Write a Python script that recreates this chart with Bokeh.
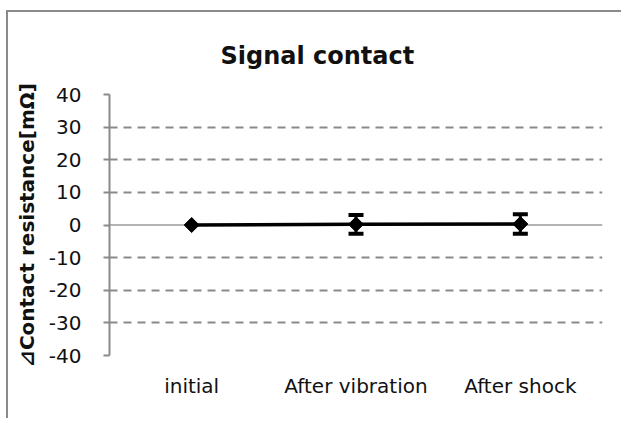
import numpy as np
from bokeh.plotting import figure
from bokeh.models import (ColumnDataSource, FactorRange, Range1d, FixedTicker, Span,
                          Whisker, TeeHead)
from bokeh.embed import file_html
from bokeh.resources import INLINE

# ---- data ----
categories = ["initial", "After vibration", "After shock"]
mean_delta = [0.0, 0.2, 0.3]          # mΩ
err_delta = [0.0, 2.9, 3.0]           # ± mΩ
y_ticks = [-40, -30, -20, -10, 0, 10, 20, 30, 40]
title_text = "Signal contact"
y_label = "⊿Contact resistance[mΩ]"

FONT = "DejaVu Sans"
GRAY = "#8a8a8a"

p = figure(width=615, height=408,
           x_range=FactorRange(factors=categories),
           y_range=Range1d(y_ticks[0], y_ticks[-1]),
           output_backend="svg", toolbar_location=None, tools="",
           min_border_left=101, min_border_right=21,
           min_border_top=82, min_border_bottom=65)
p.styles = {"border-left": "2px solid " + GRAY, "border-top": "2px solid " + GRAY,
            "margin-left": "6px", "margin-top": "10px"}
p.outline_line_color = None
p.background_fill_color = "white"
p.border_fill_color = "white"

# title
p.title.text = title_text
p.title.align = "left"
p.title.offset = 111
p.title.standoff = 49
p.title.text_font = FONT
p.title.text_font_size = "24px"
p.title.text_font_style = "bold"
p.title.text_color = "#111111"

# grid
p.xgrid.grid_line_color = None
p.ygrid.ticker = FixedTicker(ticks=[t for t in y_ticks if t != 0])
p.ygrid.grid_line_color = GRAY
p.ygrid.grid_line_width = 2
p.ygrid.grid_line_dash = "8 6"

# zero (category) axis line, drawn beneath the series
p.add_layout(Span(location=0, dimension="width", line_color="#9a9a9a", line_width=1.5,
                  level="underlay"))

# y axis
ya = p.yaxis[0]
ya.ticker = FixedTicker(ticks=y_ticks)
ya.major_label_overrides = {t: str(t) for t in y_ticks}
ya.axis_line_color = GRAY
ya.axis_line_width = 2
ya.major_tick_line_color = GRAY
ya.major_tick_line_width = 2
ya.major_tick_in = 0
ya.major_tick_out = 6
ya.minor_tick_line_color = None
ya.major_label_standoff = 22
ya.major_label_text_font = FONT
ya.major_label_text_font_size = "20px"
ya.major_label_text_color = "#111111"
ya.axis_label = y_label
ya.axis_label_text_font = FONT
ya.axis_label_text_font_size = "20px"
ya.axis_label_text_font_style = "bold"
ya.axis_label_text_color = "#111111"
ya.axis_label_standoff = 7

# x axis
xa = p.xaxis[0]
xa.axis_line_color = None
xa.major_tick_line_color = None
xa.minor_tick_line_color = None
xa.major_label_standoff = 12
xa.major_label_text_font = FONT
xa.major_label_text_font_size = "20px"
xa.major_label_text_color = "#111111"

# series
src = ColumnDataSource(dict(x=categories, y=mean_delta))
p.line("x", "y", source=src, line_color="black", line_width=3.5)

err_idx = [i for i, e in enumerate(err_delta) if e > 0]
wsrc = ColumnDataSource(dict(x=[categories[i] for i in err_idx],
                             upper=[mean_delta[i] + err_delta[i] for i in err_idx],
                             lower=[mean_delta[i] - err_delta[i] for i in err_idx]))
p.add_layout(Whisker(source=wsrc, base="x", upper="upper", lower="lower",
                     line_color="black", line_width=3,
                     upper_head=TeeHead(size=15, line_color="black", line_width=4),
                     lower_head=TeeHead(size=15, line_color="black", line_width=4)))

p.scatter("x", "y", source=src, marker="square", angle=np.pi / 4, size=10.6,
          fill_color="black", line_color="black")

open("out.html", "w").write(file_html(p, INLINE))
